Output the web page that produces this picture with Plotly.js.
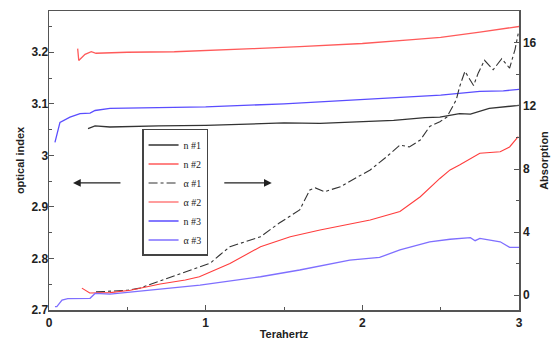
<!DOCTYPE html>
<html>
<head>
<meta charset="utf-8">
<script src="https://cdn.plot.ly/plotly-3.0.1.min.js"></script>
<style>html,body{margin:0;padding:0;background:#fff;}#chart{width:551px;height:340px;}</style>
</head>
<body>
<div id="chart"></div>
<script>
// n #1 (optical index, left axis)
const n1_x = [0.249, 0.294, 0.389, 0.517, 0.7, 1.0, 1.5, 1.73, 1.92, 2.2, 2.4, 2.495, 2.62, 2.69, 2.81, 2.94, 3.0];
const n1_y = [3.052, 3.057, 3.055, 3.056, 3.057, 3.058, 3.063, 3.062, 3.065, 3.068, 3.073, 3.074, 3.081, 3.080, 3.091, 3.095, 3.097];
// n #2
const n2_x = [0.183, 0.19, 0.23, 0.27, 0.3, 0.5, 0.8, 1.0, 1.3, 1.6, 2.0, 2.3, 2.5, 2.75, 3.0];
const n2_y = [3.207, 3.184, 3.196, 3.201, 3.198, 3.2, 3.201, 3.203, 3.207, 3.211, 3.217, 3.224, 3.229, 3.239, 3.25];
// n #3
const n3_x = [0.038, 0.07, 0.134, 0.198, 0.262, 0.294, 0.389, 0.6, 1.0, 1.5, 2.0, 2.5, 2.75, 2.9, 3.0];
const n3_y = [3.025, 3.064, 3.074, 3.081, 3.082, 3.087, 3.091, 3.092, 3.094, 3.100, 3.108, 3.117, 3.124, 3.125, 3.128];
// alpha #1 (absorption, right axis)
const a1_x = [0.30, 0.5, 0.58, 0.77, 0.9, 0.96, 1.03, 1.09, 1.155, 1.35, 1.47, 1.6, 1.665, 1.70, 1.76, 1.86, 1.92, 2.05, 2.155, 2.24, 2.30, 2.37, 2.43, 2.495, 2.54, 2.60, 2.62, 2.655, 2.71, 2.74, 2.78, 2.835, 2.89, 2.94, 2.975, 2.995];
const a1_y = [0.2, 0.3, 0.44, 1.1, 1.6, 1.8, 2.03, 2.54, 3.07, 3.7, 4.57, 5.4, 6.67, 6.8, 6.56, 6.88, 7.2, 7.94, 8.78, 9.52, 9.4, 9.84, 10.7, 11.0, 11.3, 12.4, 13.2, 14.2, 13.3, 14.1, 14.9, 14.3, 15.0, 14.4, 15.6, 16.6];
// alpha #2
const a2_x = [0.21, 0.26, 0.39, 0.52, 0.71, 0.87, 0.96, 1.155, 1.35, 1.54, 1.73, 1.92, 2.05, 2.24, 2.37, 2.495, 2.56, 2.62, 2.75, 2.88, 2.94, 2.995];
const a2_y = [0.44, 0.13, 0.15, 0.3, 0.7, 0.95, 1.16, 2.0, 3.07, 3.7, 4.13, 4.5, 4.76, 5.3, 6.24, 7.4, 7.94, 8.25, 9.0, 9.1, 9.4, 10.05];
// alpha #3
const a3_x = [0.038, 0.05, 0.083, 0.12, 0.262, 0.294, 0.389, 0.645, 0.964, 1.35, 1.6, 1.92, 2.11, 2.24, 2.43, 2.56, 2.69, 2.72, 2.75, 2.88, 2.94, 3.0];
const a3_y = [-0.74, -0.74, -0.32, -0.23, -0.21, 0.1, 0.06, 0.3, 0.63, 1.16, 1.59, 2.22, 2.39, 2.86, 3.38, 3.54, 3.64, 3.45, 3.6, 3.38, 3.03, 3.03];

const names = ['n #1', 'n #2', '\u03b1 #1', '\u03b1 #2', 'n #3', '\u03b1 #3'];

const traces = [
  {x: n1_x, y: n1_y, name: names[0], yaxis: 'y', line: {color: '#333333', width: 1.3}},
  {x: n2_x, y: n2_y, name: names[1], yaxis: 'y', line: {color: '#ff5a5a', width: 1.3}},
  {x: a1_x, y: a1_y, name: names[2], yaxis: 'y2', line: {color: '#333333', width: 1.1, dash: 'dashdot'}},
  {x: a2_x, y: a2_y, name: names[3], yaxis: 'y2', line: {color: '#ff3d3d', width: 1.1}},
  {x: n3_x, y: n3_y, name: names[4], yaxis: 'y', line: {color: '#5a4dff', width: 1.3}},
  {x: a3_x, y: a3_y, name: names[5], yaxis: 'y2', line: {color: '#7f6fff', width: 1.3}}
].map(t => Object.assign({type: 'scatter', mode: 'lines'}, t));

const tickFont = {family: 'Liberation Sans, Arial, sans-serif', size: 12, color: '#222', weight: 'bold'};
const titleFont = {family: 'Liberation Sans, Arial, sans-serif', size: 11, color: '#222', weight: 'bold'};

const layout = {
  width: 551, height: 340,
  margin: {l: 49, r: 32, t: 11, b: 30},
  paper_bgcolor: '#fff', plot_bgcolor: '#fff',
  showlegend: true,
  legend: {
    x: 0.198, y: 0.393, xanchor: 'left', yanchor: 'middle',
    bgcolor: '#fff', bordercolor: '#444', borderwidth: 1.5,
    font: {family: 'Liberation Serif, Times New Roman, serif', size: 10, color: '#222'},
    itemwidth: 30, tracegroupgap: 0
  },
  xaxis: {
    range: [0, 3], dtick: 1, tick0: 0,
    ticks: 'inside', ticklen: 5, tickwidth: 1, tickcolor: '#555',
    minor: {dtick: 0.5, ticks: 'inside', ticklen: 3, tickcolor: '#555'},
    showline: true, linecolor: '#555', linewidth: 1.5, mirror: true,
    showgrid: false, zeroline: false,
    tickfont: tickFont, ticklabelstandoff: 1,
    title: {text: 'Terahertz', font: titleFont, standoff: 1}
  },
  yaxis: {
    range: [2.7, 3.28], dtick: 0.1, tick0: 2.7,
    ticks: 'inside', ticklen: 5, tickwidth: 1, tickcolor: '#555',
    minor: {dtick: 0.05, ticks: 'inside', ticklen: 3, tickcolor: '#555'},
    showline: true, linecolor: '#555', linewidth: 1.5,
    showgrid: false, zeroline: false,
    tickfont: tickFont, ticklabelstandoff: -3,
    title: {text: 'optical index', font: titleFont, standoff: 4}
  },
  yaxis2: {
    overlaying: 'y', side: 'right',
    range: [-0.95, 18.03], dtick: 4, tick0: 0,
    ticks: 'inside', ticklen: 5, tickwidth: 1, tickcolor: '#555',
    minor: {dtick: 2, ticks: 'inside', ticklen: 3, tickcolor: '#555'},
    showline: true, linecolor: '#555', linewidth: 1.5,
    showgrid: false, zeroline: false,
    tickfont: tickFont,
    title: {text: 'Absorption', font: titleFont, standoff: 4}
  },
  annotations: [
    {xref: 'paper', yref: 'paper', x: 0.051, y: 0.425, axref: 'pixel', ayref: 'pixel', ax: 49, ay: 0,
     text: '', showarrow: true, arrowhead: 2, arrowsize: 1.2, arrowwidth: 1.3, arrowcolor: '#222'},
    {xref: 'paper', yref: 'paper', x: 0.474, y: 0.425, axref: 'pixel', ayref: 'pixel', ax: -49, ay: 0,
     text: '', showarrow: true, arrowhead: 2, arrowsize: 1.2, arrowwidth: 1.3, arrowcolor: '#222'}
  ]
};

Plotly.newPlot('chart', traces, layout, {staticPlot: true, displayModeBar: false});
</script>
</body>
</html>
